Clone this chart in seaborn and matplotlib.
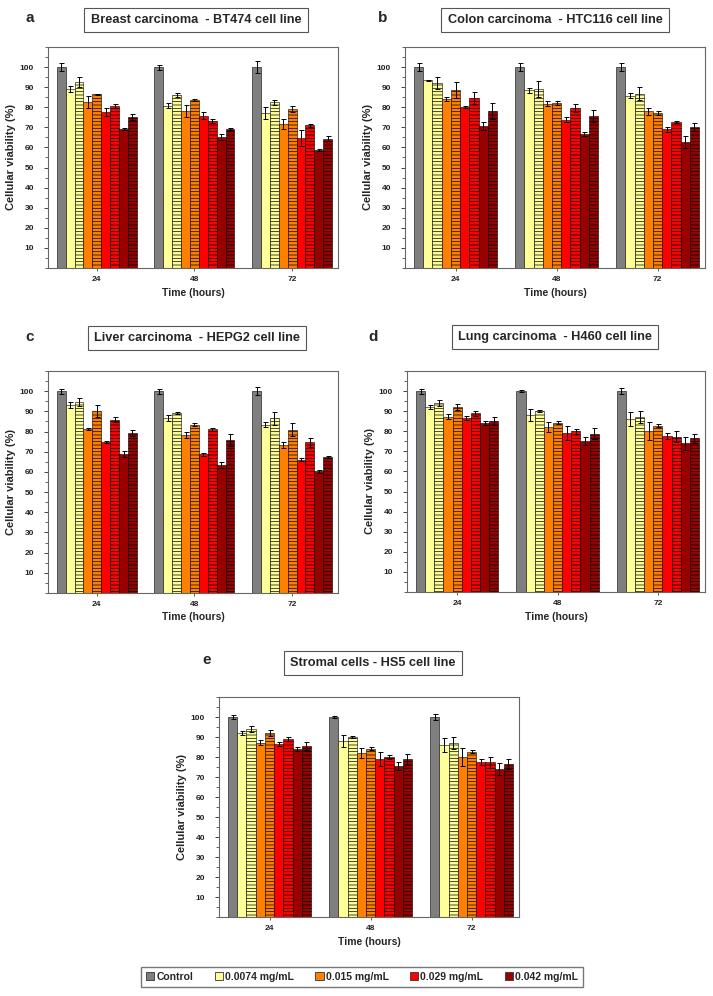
import numpy as np
import pandas as pd
import matplotlib
matplotlib.use('Agg')
import matplotlib.pyplot as plt
import seaborn as sns
from matplotlib.patches import Patch
from matplotlib.ticker import FixedLocator, MultipleLocator

# ---- data ----
TIMES = ['24', '48', '72']
CONCS = ['Control', '0.0074 mg/mL', '0.015 mg/mL', '0.029 mg/mL', '0.042 mg/mL']
# bars inside each time group: control, then a plain / striped pair per concentration
BARS = ['Control', '0.0074 a', '0.0074 b', '0.015 a', '0.015 b',
        '0.029 a', '0.029 b', '0.042 a', '0.042 b']
COLORS = ['#7f7f7f', '#ffff99', '#ff8000', '#ff0000', '#990000']

# rows = 24 h, 48 h, 72 h
bt474_mean = [[100, 88.9, 92.5, 82.6, 86.4, 77.7, 80.4, 69.1, 75.2],
              [100, 80.7, 86.2, 78.1, 83.7, 75.9, 73.1, 65.0, 69.1],
              [100, 77.1, 82.4, 71.8, 78.9, 64.5, 71.1, 58.5, 64.3]]
bt474_sd = [[2.0, 1.5, 2.5, 3.0, 0.3, 2.0, 1.0, 0.4, 1.5],
            [1.2, 1.2, 1.0, 2.8, 0.4, 1.5, 1.0, 1.5, 0.5],
            [3.0, 3.0, 1.2, 2.5, 1.5, 4.0, 0.7, 0.5, 1.3]]

hct116_mean = [[100, 93.5, 91.9, 84.2, 88.5, 80.1, 84.5, 70.7, 78.3],
               [100, 88.4, 89.0, 81.7, 82.0, 73.8, 79.6, 66.5, 75.8],
               [100, 85.8, 86.8, 77.9, 77.3, 69.0, 72.7, 62.9, 70.3]]
hct116_sd = [[2.0, 0.3, 3.0, 1.0, 4.0, 0.3, 3.0, 2.2, 4.0],
             [2.0, 1.2, 4.0, 1.2, 1.0, 1.3, 2.0, 1.0, 3.0],
             [2.0, 1.2, 3.2, 1.5, 1.0, 1.3, 0.5, 3.0, 2.0]]

hepg2_mean = [[100, 93.0, 94.8, 81.4, 90.0, 74.7, 85.8, 68.8, 79.3],
              [100, 86.9, 89.2, 78.4, 83.4, 68.8, 81.1, 63.3, 75.8],
              [100, 83.4, 86.5, 73.5, 81.0, 66.0, 74.6, 60.3, 67.4]]
hepg2_sd = [[1.2, 1.5, 2.0, 0.5, 3.0, 0.5, 1.2, 1.5, 1.5],
            [1.2, 1.5, 0.5, 1.5, 0.8, 0.7, 0.8, 1.5, 3.0],
            [2.0, 1.2, 3.2, 1.5, 3.0, 0.8, 2.3, 0.7, 0.7]]

h460_mean = [[100, 91.9, 94.1, 87.2, 91.9, 86.5, 89.0, 84.2, 85.3],
             [100, 88.0, 90.0, 82.1, 84.2, 79.2, 80.0, 75.3, 78.8],
             [100, 86.0, 87.2, 80.0, 82.7, 77.7, 77.3, 74.0, 76.5]]
h460_sd = [[1.2, 1.0, 1.5, 1.3, 1.5, 1.0, 1.2, 1.0, 2.0],
           [0.7, 3.0, 0.5, 2.5, 0.8, 3.5, 1.2, 2.0, 2.7],
           [1.5, 3.4, 3.0, 4.5, 0.8, 1.5, 2.6, 3.2, 2.3]]

hs5_mean = [[100, 91.9, 94.1, 87.2, 91.9, 86.5, 89.0, 84.2, 85.3],
            [100, 88.0, 90.0, 82.1, 84.2, 79.2, 80.0, 75.3, 78.8],
            [100, 86.0, 87.2, 80.0, 82.7, 77.7, 77.3, 74.0, 76.5]]
hs5_sd = [[1.2, 1.0, 1.5, 1.3, 1.5, 1.0, 1.2, 1.0, 2.0],
          [0.7, 3.0, 0.5, 2.5, 0.8, 3.5, 1.2, 2.0, 2.7],
          [1.5, 3.4, 3.0, 4.5, 0.8, 1.5, 2.6, 3.2, 2.3]]

PANELS = [
    ('a', 'Breast carcinoma  - BT474 cell line', bt474_mean, bt474_sd),
    ('b', 'Colon carcinoma  - HTC116 cell line', hct116_mean, hct116_sd),
    ('c', 'Liver carcinoma  - HEPG2 cell line', hepg2_mean, hepg2_sd),
    ('d', 'Lung carcinoma  - H460 cell line', h460_mean, h460_sd),
    ('e', 'Stromal cells - HS5 cell line', hs5_mean, hs5_sd),
]

# ---- style ----
sns.set_theme(style='white')
plt.rcParams['font.family'] = ['Liberation Sans', 'DejaVu Sans']
plt.rcParams['font.weight'] = 'bold'
plt.rcParams['axes.labelweight'] = 'bold'
plt.rcParams['hatch.linewidth'] = 0.5

W, H = 713, 996
fig = plt.figure(figsize=(W / 100, H / 100), dpi=100)

# pixel layout: (axes left, top, right, bottom), letter xy, title centre xy
LAYOUT = [
    ((48, 47, 338, 268), (25, 18), (196, 20)),
    ((405, 47, 705, 268), (378, 18), (555, 20)),
    ((48, 371, 338, 593), (25, 337), (197, 338)),
    ((407, 371, 705, 592), (368, 337), (555, 337)),
    ((219, 697, 519, 917), (202, 660), (373, 663)),
]

bar_colors = [COLORS[0]] + [c for c in COLORS[1:] for _ in range(2)]


def draw_panel(ax, means, sds):
    df = pd.DataFrame({
        'time': np.repeat(TIMES, len(BARS)),
        'bar': BARS * len(TIMES),
        'value': np.ravel(means),
        'sd': np.ravel(sds),
    })
    sns.barplot(data=df, x='time', y='value', hue='bar', order=TIMES,
                hue_order=BARS, palette=bar_colors, saturation=1, width=0.82,
                errorbar=None, edgecolor='black', linewidth=0.4,
                legend=False, ax=ax)
    bar_conts = list(ax.containers)
    for i, cont in enumerate(bar_conts):
        sub = df[df['bar'] == BARS[i]].set_index('time').loc[TIMES]
        for patch, sd in zip(cont.patches, sub['sd']):
            if i > 0 and i % 2 == 0:
                patch.set_hatch('-----')
            x = patch.get_x() + patch.get_width() / 2
            ax.errorbar(x, patch.get_height(), yerr=sd, color='black',
                        lw=0.7, capsize=1.8, capthick=0.7, zorder=5)
    ax.set_ylim(0, 110)
    ax.set_xlim(-0.5, 2.47)
    ax.yaxis.set_major_locator(FixedLocator(range(10, 101, 10)))
    ax.yaxis.set_minor_locator(MultipleLocator(5))
    ax.tick_params(axis='y', which='major', direction='out', length=3,
                   width=0.6, labelsize=6, colors='#222222', pad=7,
                   left=True)
    ax.tick_params(axis='y', which='minor', direction='out', length=2,
                   width=0.5, left=True)
    ax.tick_params(axis='x', direction='out', length=2, width=0.5,
                   labelsize=6, colors='#222222', bottom=True, pad=4)
    for s in ax.spines.values():
        s.set_color('#666666')
        s.set_linewidth(0.8)
    ax.set_xlabel('Time (hours)', fontsize=7.5, labelpad=3)
    ax.set_ylabel('Cellular viability (%)', fontsize=8, labelpad=3)


for (letter, title, means, sds), (box, lxy, txy) in zip(PANELS, LAYOUT):
    l, t, r, b = box
    ax = fig.add_axes([l / W, 1 - b / H, (r - l) / W, (b - t) / H])
    draw_panel(ax, means, sds)
    fig.text(lxy[0] / W, 1 - lxy[1] / H, letter, fontsize=11,
             fontweight='bold', ha='left', va='center')
    fig.text(txy[0] / W, 1 - txy[1] / H, title, fontsize=9.2,
             fontweight='bold', ha='center', va='center',
             bbox=dict(boxstyle='square,pad=0.5', fc='white',
                       ec='#555555', lw=0.8))

handles = [Patch(facecolor=c, edgecolor='#333333', linewidth=0.6) for c in COLORS]
fig.legend(handles, CONCS, loc='center', bbox_to_anchor=(362 / W, 1 - 977 / H),
           ncol=5, frameon=True, fancybox=False, edgecolor='#555555',
           fontsize=7.5, handlelength=0.8, handleheight=0.8,
           handletextpad=0.2, columnspacing=2.05, borderpad=0.45)

fig.savefig('out.png', dpi=100)
